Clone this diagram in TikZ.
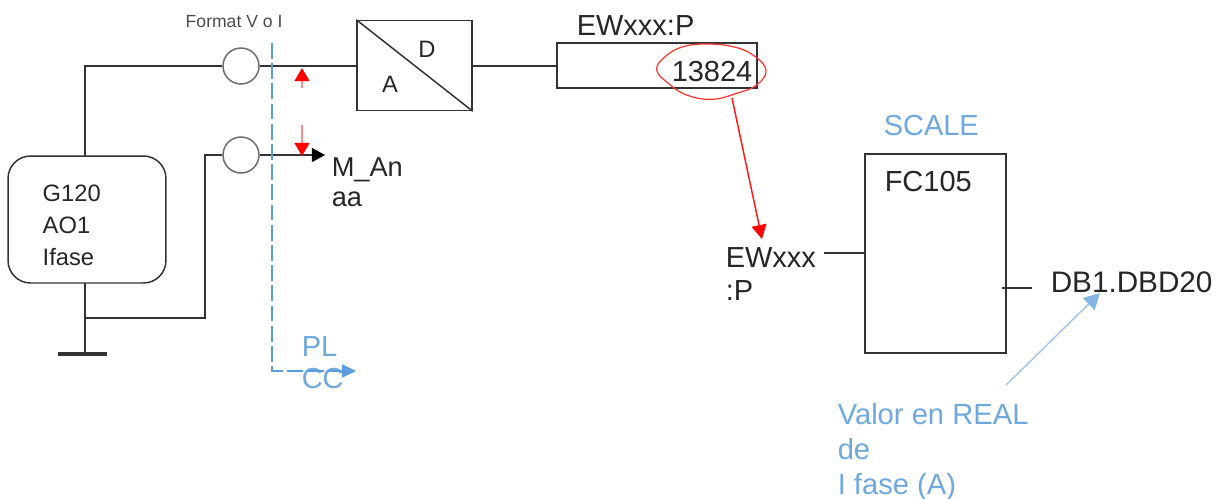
\documentclass[tikz,border=0pt]{standalone}
\usepackage{fontspec}
\setmainfont{Liberation Sans}
\usetikzlibrary{arrows.meta}

\definecolor{skyblue}{HTML}{6FA8DC}
\definecolor{dashblue}{HTML}{5B9BE0}
\definecolor{paleblue}{HTML}{A4C6EA}
\definecolor{wire}{HTML}{333333}

\begin{document}
\begin{tikzpicture}[
    x=0.02cm,
    y=-0.02cm,
    line width=0.85pt,
    >={Triangle[length=7.5pt,width=7.5pt]},
    wirelink/.style = {draw=wire},
    blockbox/.style = {
      draw = wire,
      rectangle,
      inner sep = 0pt
    },
    ring/.style = {
      draw = gray!85!black,
      circle,
      fill = white,
      inner sep = 0pt,
      minimum size = 0.72cm
    },
    caption/.style = {
      anchor = west,
      align = left,
      inner sep = 0pt,
      text = black!85,
      font = \fontsize{16.5}{18.3}\selectfont
    },
    bluecaption/.style = {
      caption,
      text = skyblue
    }
  ]
  \useasboundingbox (0,0) rectangle (1222,498);

  \coordinate (gtop) at (85,156);
  \coordinate (gbot) at (85,283);
  \coordinate (tee) at (85,318);
  \coordinate (gnd) at (85,354);
  \coordinate (gndl) at (58,354);
  \coordinate (gndr) at (107,354);
  \coordinate (kneetop) at (85,66);
  \coordinate (kneelow) at (205,318);
  \coordinate (kneeup) at (205,155);

  \draw (87,219.5) node[blockbox,rounded corners=0.45cm,minimum width=3.16cm,minimum height=2.54cm] (g120) {};
  \draw (42,225) node[caption,font=\fontsize{13.5}{18.2}\selectfont] (g120txt) {G120\\AO1\\Ifase};

  \draw (241,66) node[ring] (ringtop) {};
  \draw (241,155) node[ring] (ringlow) {};

  \draw (414.5,65.5) node[blockbox,minimum width=2.3cm,minimum height=1.8cm] (adc) {};
  \draw (427,49) node[caption,anchor=center,font=\fontsize{13.5}{18}\selectfont] (adcd) {D};
  \draw (390,84) node[caption,anchor=center,font=\fontsize{13.5}{18}\selectfont] (adca) {A};
  \draw[wirelink] (adc.north west) -- (adc.south east);

  \draw (657,65.5) node[blockbox,minimum width=4cm,minimum height=0.9cm] (ewbox) {};
  \draw (576,26) node[caption] (ewname) {EWxxx:P};
  \draw (671,72) node[caption] (ewval) {13824};

  \draw (935.5,253.5) node[blockbox,minimum width=2.82cm,minimum height=3.98cm] (fcbox) {};
  \draw (884,182) node[caption] (fcname) {FC105};
  \draw (883,126) node[bluecaption] (scale) {SCALE};

  \draw (185,22) node[caption,font=\fontsize{10}{12}\selectfont,text=black!70] (format) {Format V o I};
  \draw (331,182.5) node[caption,font=\fontsize{15.5}{17}\selectfont] (manaa) {M\_An\\aa};
  \draw (725,274) node[caption] (ewin) {EWxxx\\:P};
  \draw (1050,282) node[caption,font=\fontsize{16.9}{18.3}\selectfont] (dbout) {DB1.DBD20};
  \draw (301,363) node[bluecaption] (plcc) {PL\\CC};
  \draw (837,452) node[bluecaption,font=\fontsize{16.6}{19.8}\selectfont] (valor) {Valor en REAL\\de\\I fase (A)};

  \draw[wirelink] (gtop) -- (kneetop) -- (ringtop.west);
  \draw[wirelink] (ringtop.east) -- (adc.west |- ringtop.east);
  \draw[wirelink] (adc.east |- ringtop.east) -- (ewbox.west |- ringtop.east);
  \draw[wirelink] (gbot) -- (gnd);
  \draw[wirelink] (tee) -- (kneelow) -- (kneeup) -- (ringlow.west);
  \draw[draw=wire,line width=2.2pt] (gndl) -- (gndr);
  \draw[draw=wire,->,>={Triangle[length=7.5pt,width=8pt,color=black]}] (ringlow.east) -- (325,155);

  \coordinate (fcinl) at (824,253);
  \coordinate (fcoutl) at (1002,288);
  \coordinate (fcoutr) at (1032,288);
  \draw[wirelink] (fcinl) -- (fcbox.west |- fcinl);
  \draw[wirelink] (fcoutl) -- (fcoutr);

  % courant
  \coordinate (uptail) at (302,88);
  \coordinate (uphead) at (302,68);
  \coordinate (dntail) at (302,125);
  \coordinate (dnhead) at (302,156);
  \draw[red!45,line width=1.1pt,->,>={Triangle[length=7.5pt,width=8.5pt,color=red]}] (uptail) -- (uphead);
  \draw[red!45,line width=1.1pt,->,>={Triangle[length=7.5pt,width=8.5pt,color=red]}] (dntail) -- (dnhead);

  \draw[red!80!white,line width=0.7pt] plot[smooth cycle,tension=0.7] coordinates {
    (656.7,70) (665,56.7) (683,46.7) (706.7,44) (733,46.7) (753,55)
    (766,70) (756.7,85) (736.7,93.3) (711.7,99.3) (686.7,95) (668.3,83.3)};

  \coordinate (circfoot) at (732,98);
  \coordinate (ewarrow) at (762,239);
  \draw[red!90!white,->,>={Triangle[length=8pt,width=8.5pt,color=red]}] (circfoot) -- (ewarrow);

  \coordinate (plctop) at (272,43);
  \coordinate (plcknee) at (272,371);
  \coordinate (plcend) at (356,371);
  \draw[dashblue,dash pattern=on 9pt off 2.5pt,line width=0.7pt] (plctop) -- (plcknee) -- (342,371);
  \draw[dashblue,-{Triangle[length=8pt,width=7.5pt]},line width=0.7pt] (342,371) -- (plcend);

  \coordinate (valtail) at (1006,385);
  \coordinate (valhead) at (1100,293);
  \draw[paleblue,->,>={Triangle[length=9pt,width=9.5pt,color=skyblue!85]}] (valtail) -- (valhead);
\end{tikzpicture}
\end{document}
